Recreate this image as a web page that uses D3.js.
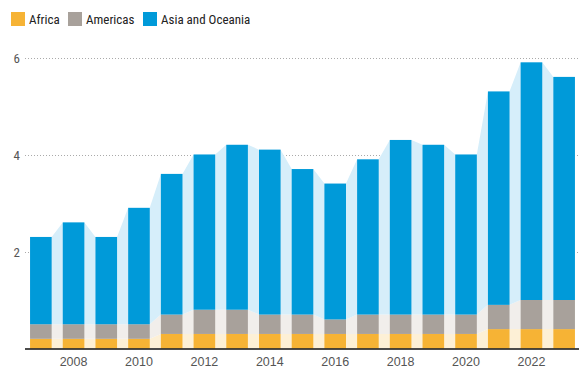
<!DOCTYPE html>
<html><head><meta charset="utf-8">
<script src="https://cdn.jsdelivr.net/npm/d3@7"></script>
<style>
body{margin:0;background:#fff;}
text{font-family:"Liberation Sans Narrow","Arial Narrow","Roboto Condensed","Liberation Sans",sans-serif;}
</style></head>
<body><svg id="c" width="583" height="382"></svg>
<script>
const years = [2007,2008,2009,2010,2011,2012,2013,2014,2015,2016,2017,2018,2019,2020,2021,2022,2023];
const africa   = [0.2,0.2,0.2,0.2,0.3,0.3,0.3,0.3,0.3,0.3,0.3,0.3,0.3,0.3,0.4,0.4,0.4];
const americas = [0.3,0.3,0.3,0.3,0.4,0.5,0.5,0.4,0.4,0.3,0.4,0.4,0.4,0.4,0.5,0.6,0.6];
const asiaOceania = [1.8,2.1,1.8,2.4,2.9,3.2,3.4,3.4,3.0,2.8,3.2,3.6,3.5,3.3,4.4,4.9,4.6];
const seriesNames = ["Africa","Americas","Asia and Oceania"];
const yTicks = [2,4,6];
const xTickLabels = [2008,2010,2012,2014,2016,2018,2020,2022];

const colors = ["#f6b335","#a8a19b","#009ad9"];
const lightColors = ["#fdf0d6","#f1eeeb","#d6eefa"];

const svg = d3.select("#c");
const x = d3.scaleBand().domain(years).range([24.5,580.5]).paddingInner(0.34).paddingOuter(0.17);
const y = d3.scaleLinear().domain([0,6]).range([348.5,57.5]);

const data = years.map((yr,i)=>({year:yr, "Africa":africa[i], "Americas":americas[i], "Asia and Oceania":asiaOceania[i]}));
const stacked = d3.stack().keys(seriesNames)(data);

// grid
const grid = svg.append("g");
yTicks.forEach(t=>{
  grid.append("line").attr("x1",25).attr("x2",580).attr("y1",Math.round(y(t))+0.5).attr("y2",Math.round(y(t))+0.5)
    .attr("stroke","#aaaaaa").attr("stroke-width",1).attr("stroke-dasharray","1,2");
});

// light connecting areas
stacked.forEach((s,k)=>{
  const pts=[];
  s.forEach((d,i)=>{
    const x0=x(years[i]), x1=x0+x.bandwidth();
    pts.push({x:x0,y0:d[0],y1:d[1]});
    pts.push({x:x1,y0:d[0],y1:d[1]});
  });
  const area=d3.area().x(p=>p.x).y0(p=>y(p.y0)).y1(p=>y(p.y1));
  svg.append("path").attr("d",area(pts)).attr("fill",lightColors[k]);
});

// bars
stacked.forEach((s,k)=>{
  svg.append("g").selectAll("rect").data(s).join("rect")
    .attr("x",(d,i)=>x(years[i])).attr("width",x.bandwidth())
    .attr("y",d=>y(d[1])).attr("height",d=>y(d[0])-y(d[1]))
    .attr("fill",colors[k]);
});

// y labels
yTicks.forEach(t=>{
  svg.append("text").attr("x",20).attr("y",y(t)+5).attr("text-anchor","end")
    .attr("font-size",13).attr("fill","#555").text(t);
});

// baseline
svg.append("line").attr("x1",25).attr("x2",579).attr("y1",349).attr("y2",349).attr("stroke","#111").attr("stroke-width",1.5);

// x labels
const xAxis = d3.axisBottom(x).tickValues(xTickLabels).tickSize(0).tickPadding(7);
const gx = svg.append("g").attr("transform","translate(0,350)").call(xAxis);
gx.select(".domain").remove();
gx.selectAll("text").attr("font-size",12.5).attr("fill","#555").style("font-family",'"Liberation Sans Narrow","Arial Narrow","Liberation Sans",sans-serif');

// legend
const legX=[11,68,143];
seriesNames.forEach((n,i)=>{
  svg.append("rect").attr("x",legX[i]).attr("y",12).attr("width",14).attr("height",14).attr("fill",colors[i]);
  svg.append("text").attr("x",legX[i]+18).attr("y",24).attr("font-size",13).attr("fill","#222").text(n);
});
</script></body></html>
